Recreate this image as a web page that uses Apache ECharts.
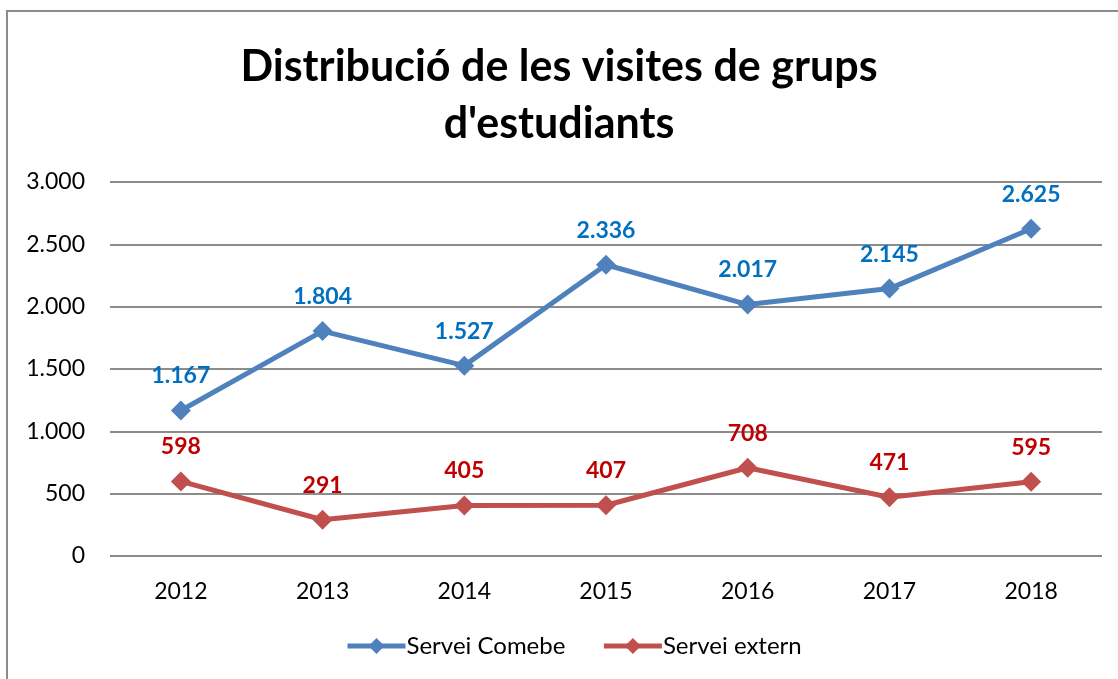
<!DOCTYPE html>
<html>
<head>
<meta charset="utf-8">
<script src="https://cdn.jsdelivr.net/npm/echarts@6/dist/echarts.min.js"></script>
<style>
  html, body { margin: 0; padding: 0; background: #fff; }
  #chart { width: 1118px; height: 679px; }
</style>
</head>
<body>
<div id="chart"></div>
<script>
const years = ['2012', '2013', '2014', '2015', '2016', '2017', '2018'];
const serveiComebe = [1167, 1804, 1527, 2336, 2017, 2145, 2625];
const serveiExtern = [598, 291, 405, 407, 708, 471, 595];

const FONT = 'Lato, "Open Sans", sans-serif';

// format 1167 -> 1.167
const fmt = v => String(v).replace(/\B(?=(\d{3})+(?!\d))/g, '.');

const chart = echarts.init(document.getElementById('chart'), null, { renderer: 'canvas' });

const lineSeries = (name, data, lineColor, labelColor) => ({
  name,
  type: 'line',
  data,
  symbol: 'diamond',
  symbolSize: 20,
  lineStyle: { color: lineColor, width: 5 },
  itemStyle: { color: lineColor },
  label: {
    show: true,
    position: 'top',
    distance: 13,
    color: labelColor,
    fontFamily: FONT,
    fontWeight: 'bold',
    fontSize: 23,
    formatter: p => fmt(p.value)
  },
  animation: false
});

chart.setOption({
  backgroundColor: '#fff',
  title: {
    text: 'Distribució de les visites de grups\nd\'estudiants',
    left: 'center',
    top: 34,
    textStyle: {
      fontFamily: FONT,
      fontWeight: 'bold',
      fontSize: 43,
      lineHeight: 57,
      color: '#000'
    }
  },
  graphic: [{
    type: 'rect',
    shape: { x: 7, y: 11, width: 1130, height: 700 },
    style: { fill: 'none', stroke: '#8c8c8c', lineWidth: 2 },
    silent: true
  }],
  grid: { left: 110, right: 16, top: 182, bottom: 123 },
  xAxis: {
    type: 'category',
    data: years,
    boundaryGap: true,
    axisLine: { show: false },
    axisTick: { show: false },
    axisLabel: { color: '#000', fontFamily: FONT, fontSize: 23, margin: 24 }
  },
  yAxis: {
    type: 'value',
    min: 0,
    max: 3000,
    interval: 500,
    axisLine: { show: false },
    axisTick: { show: false },
    axisLabel: {
      color: '#000', fontFamily: FONT, fontSize: 23,
      align: 'right', margin: 25,
      formatter: v => fmt(v)
    },
    splitLine: { lineStyle: { color: '#8c8c8c', width: 2 } }
  },
  legend: {
    bottom: 16,
    left: 340,
    itemWidth: 58,
    itemHeight: 20,
    itemGap: 36,
    lineStyle: { width: 5 },
    textStyle: { color: '#000', fontFamily: FONT, fontSize: 24, padding: [0, 0, 0, -4] },
    data: ['Servei Comebe', 'Servei extern']
  },
  series: [
    lineSeries('Servei Comebe', serveiComebe, '#4f81bd', '#0070c0'),
    lineSeries('Servei extern', serveiExtern, '#c0504d', '#c00000')
  ]
});
</script>
</body>
</html>
